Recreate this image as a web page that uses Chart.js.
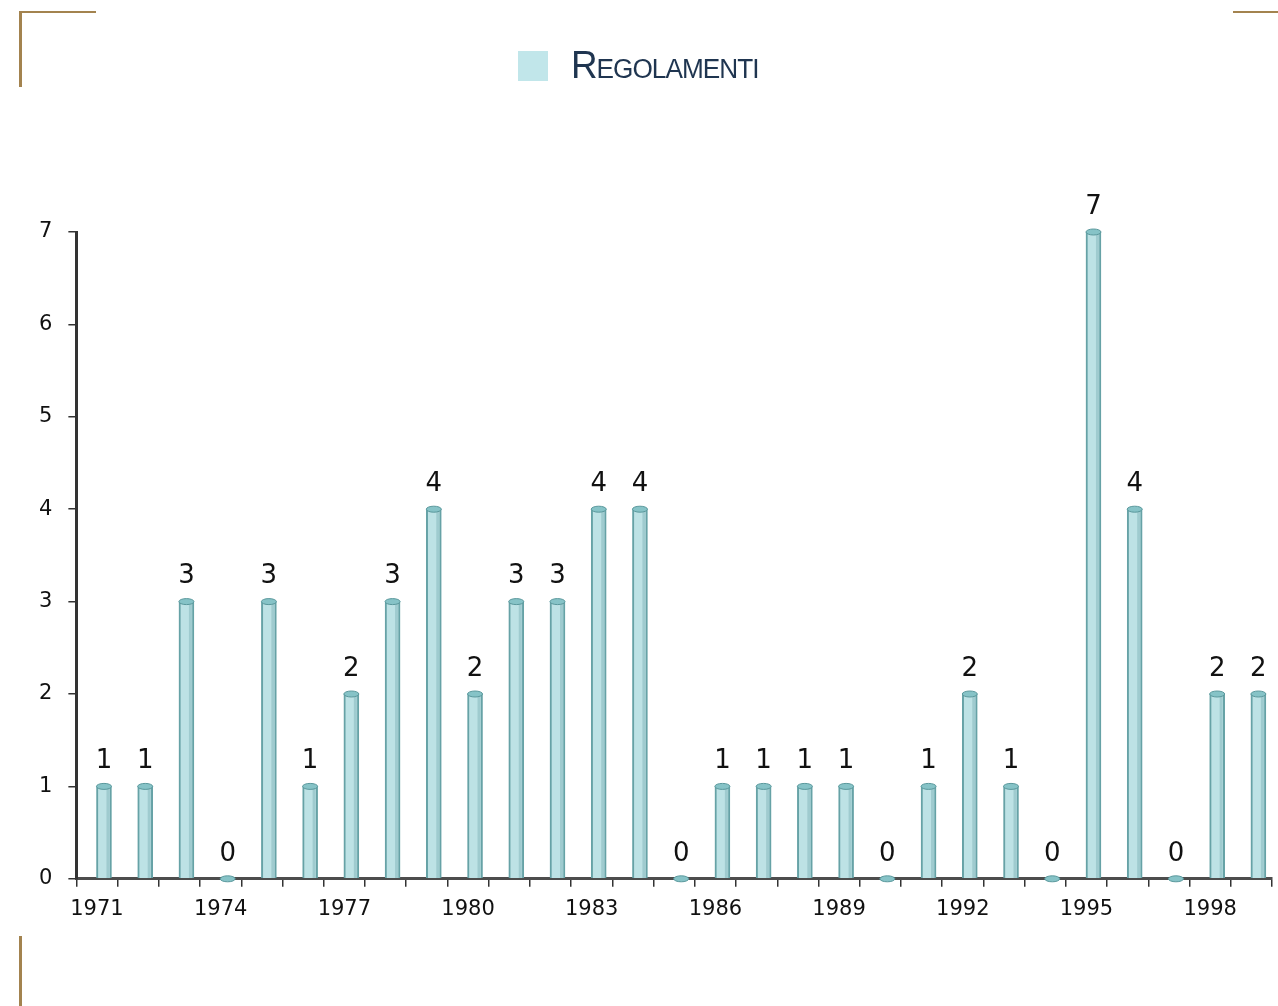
<!DOCTYPE html>
<html>
<head>
<meta charset="utf-8">
<script src="https://cdn.jsdelivr.net/npm/chart.js@4.4.1/dist/chart.umd.min.js"></script>
<style>
    html, body { margin: 0; padding: 0; background: #fff; }
    #wrap { position: relative; width: 1278px; height: 1006px; overflow: hidden; }
    #chart { position: absolute; left: 0; top: 0; }
    .corner { position: absolute; background: #a3834f; }
    #legend {
        position: absolute; top: 44px; left: 0; width: 1278px;
        display: flex; justify-content: center; align-items: center;
        font-family: "Liberation Sans", "DejaVu Sans", sans-serif;
    }
    #legend .box { width: 30px; height: 30px; background: #c1e6ea; margin-right: 20px; margin-left: 2px; }
    #legend .txt { font-size: 38px; color: #1f3550; font-variant: small-caps; letter-spacing: -1px; transform: scaleX(0.97); }
</style>
</head>
<body>
<div id="wrap">
    <div class="corner" style="left:20px; top:11px; width:76px; height:2px;"></div>
    <div class="corner" style="left:19px; top:11px; width:3px; height:76px;"></div>
    <div class="corner" style="left:1233px; top:11px; width:45px; height:2px;"></div>
    <div class="corner" style="left:19px; top:936px; width:3px; height:70px;"></div>
    <canvas id="chart" width="1278" height="1006"></canvas>
    <div id="legend"></div>
</div>
<script>
// Dati
const years = ['1971','1972','1973','1974','1975','1976','1977','1978','1979','1980',
    '1981','1982','1983','1984','1985','1986','1987','1988','1989','1990',
    '1991','1992','1993','1994','1995','1996','1997','1998','1999'];
const regolamenti = [1,1,3,0,3,1,2,3,4,2,3,3,4,4,0,1,1,1,1,0,1,2,1,0,7,4,0,2,2];
const shownYears = ['1971','1974','1977','1980','1983','1986','1989','1992','1995','1998'];
const yTicks = [0,1,2,3,4,5,6,7];

const BAR_SHIFT = 7; // effetto 3D: barre spostate a destra
const FONT = '"DejaVu Sans", Verdana, sans-serif';

// cilindri: cappello ellittico + etichette valori
const cylinderPlugin = {
    id: 'cylinder',
    beforeDatasetsDraw(chart) {
        chart.ctx.save();
        chart.ctx.translate(BAR_SHIFT, 0);
    },
    afterDatasetsDraw(chart) {
        const ctx = chart.ctx;
        const meta = chart.getDatasetMeta(0);
        meta.data.forEach((bar, i) => {
            const w = bar.width;
            // ombra laterale
            ctx.fillStyle = 'rgba(90,150,155,0.3)';
            ctx.fillRect(bar.x + w / 2 - 5, bar.y, 3, bar.base - bar.y);
            // cappello
            ctx.beginPath();
            ctx.ellipse(bar.x, bar.y, w / 2, 3, 0, 0, Math.PI * 2);
            ctx.fillStyle = '#86c3c7';
            ctx.fill();
            ctx.lineWidth = 1;
            ctx.strokeStyle = '#5a989c';
            ctx.stroke();
            // etichetta
            ctx.fillStyle = '#111';
            ctx.font = '26px ' + FONT;
            ctx.textAlign = 'center';
            ctx.textBaseline = 'middle';
            ctx.fillText(String(regolamenti[i]), bar.x, bar.y - 25);
        });
        ctx.restore();
    }
};

function buildLegend(chart) {
    const el = document.getElementById('legend');
    chart.data.datasets.forEach(ds => {
        el.innerHTML += '<div class="box"></div><div class="txt">' + ds.label + '</div>';
    });
}

const chart = new Chart(document.getElementById('chart'), {
    type: 'bar',
    data: {
        labels: years,
        datasets: [{
            label: 'Regolamenti',
            data: regolamenti,
            backgroundColor: '#bde2e5',
            borderColor: '#66a2a6',
            borderWidth: 2,
            barThickness: 15
        }]
    },
    options: {
        responsive: false,
        animation: false,
        layout: { padding: { top: 232, left: 23, right: 6, bottom: 74 } },
        plugins: {
            legend: { display: false },
            tooltip: { enabled: false }
        },
        scales: {
            x: {
                offset: true,
                border: { display: true, color: '#4d4d4d', width: 3 },
                grid: { offset: true, drawOnChartArea: false, drawTicks: true, tickLength: 8, color: '#333', lineWidth: 1.5 },
                ticks: {
                    autoSkip: false,
                    maxRotation: 0,
                    padding: 10,
                    color: '#111',
                    font: { family: FONT, size: 21 },
                    callback: function (value) {
                        const y = this.getLabelForValue(value);
                        return shownYears.includes(y) ? y : '';
                    }
                }
            },
            y: {
                min: 0,
                max: 7,
                afterBuildTicks: axis => { axis.ticks = yTicks.map(v => ({ value: v })); },
                border: { display: true, color: '#333', width: 3 },
                grid: { drawOnChartArea: false, drawTicks: true, tickLength: 8, color: '#333', lineWidth: 1.5 },
                ticks: {
                    padding: 16,
                    color: '#111',
                    font: { family: FONT, size: 21 }
                }
            }
        }
    },
    plugins: [cylinderPlugin]
});
buildLegend(chart);
</script>
</body>
</html>
